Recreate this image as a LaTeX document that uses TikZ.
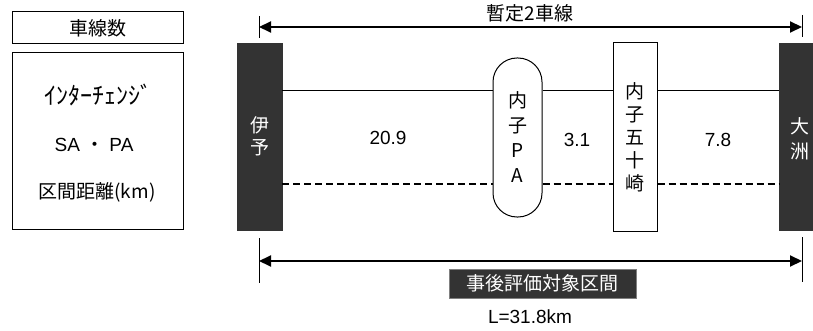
\documentclass[tikz,border=0pt]{standalone}
\usepackage{fontspec}
\setmainfont{Liberation Sans}
\newfontfamily\jp{Noto Sans CJK JP}
\usetikzlibrary{arrows.meta}
\definecolor{dark}{HTML}{333333}
\begin{document}
\begin{tikzpicture}[x=1pt,y=-1pt,
  box/.style={draw=black, line width=1pt, inner sep=0pt},
  icbar/.style={fill=dark, draw=dark, minimum width=45pt, minimum height=187pt, inner sep=0pt, text=white, align=center, font=\jp\fontsize{19}{22}\selectfont},
  road/.style={line width=1pt},
  dashroad/.style={line width=2pt, dash pattern=on 7pt off 4pt},
  dim/.style={line width=2pt, {Triangle[length=12pt,width=11pt]}-{Triangle[length=12pt,width=11pt]}},
  tickline/.style={line width=1pt},
  lbl/.style={inner sep=0pt, font=\fontsize{19}{22}\selectfont},
  jlbl/.style={inner sep=0pt, font=\jp\fontsize{19}{22}\selectfont}
]
\useasboundingbox (0,0) rectangle (813,331);

% legend
\node[box, minimum width=171pt, minimum height=32pt, jlbl] (lanes) at (97.5,28) {車線数};
\node[box, minimum width=171pt, minimum height=176pt] (legend) at (97.5,141) {};
\node[jlbl, font=\jp\fontsize{24}{26}\selectfont] (lic) at (98,95) {ｲﾝﾀｰﾁｪﾝｼﾞ};
\node[lbl] (lsa) at (94,145) {SA {\jp ・} PA};
\node[jlbl] (ldist) at (97,192) {区間距離(km)};

% interchanges and PA
\node[icbar] (iyo) at (259.5,136.5) {伊\\予};
\node[icbar, minimum width=34pt] (ozu) at (796,136.5) {};
\node[inner sep=0pt, text=white, align=center, font=\jp\fontsize{19}{25}\selectfont] (ozut) at (800,139) {大\\洲};
\node[box, fill=white, rounded corners=24pt, minimum width=49pt, minimum height=159pt, align=center, font=\jp\fontsize{19}{25}\selectfont] (pa) at (517.5,137.5) {内\\子\\P\\A};
\node[box, fill=white, minimum width=44pt, minimum height=188pt, align=center, font=\jp\fontsize{19}{23}\selectfont] (ika) at (635,137) {内\\子\\五\\十\\崎};

% roads
\draw[road] (iyo.east |- 0,91) -- (pa.west |- 0,91);
\draw[road] (pa.east |- 0,91) -- (ika.west |- 0,91);
\draw[road] (ika.east |- 0,91) -- (ozu.west |- 0,91);
\draw[dashroad] (iyo.east |- 0,184) -- (pa.west |- 0,184);
\draw[dashroad] (pa.east |- 0,184) -- (ika.west |- 0,184);
\draw[dashroad] (ika.east |- 0,184) -- (ozu.west |- 0,184);

% distances
\node[lbl] (d1) at (388,138) {20.9};
\node[lbl] (d2) at (577,140) {3.1};
\node[lbl] (d3) at (718,140) {7.8};

% top dimension
\coordinate (tl) at (259,27);
\coordinate (tr) at (802,27);
\draw[tickline] (259,16) -- (259,38);
\draw[tickline] (802,15) -- (802,37);
\draw[dim] (tl) -- (tr);
\node[jlbl] (tlabel) at (530,13) {暫定2車線};

% bottom dimension
\coordinate (bl) at (259,261);
\coordinate (br) at (802,261);
\draw[tickline] (259,238) -- (259,283);
\draw[tickline] (802,237) -- (802,282);
\draw[dim] (bl) -- (br);
\node[fill=dark, draw=gray, line width=0.8pt, text=white, minimum width=187pt, minimum height=29pt, inner sep=0pt, font=\jp\fontsize{19}{22}\selectfont] (eval) at (542.5,283.5) {事後評価対象区間};
\node[lbl] (len) at (530,317) {L=31.8km};
\end{tikzpicture}
\end{document}
